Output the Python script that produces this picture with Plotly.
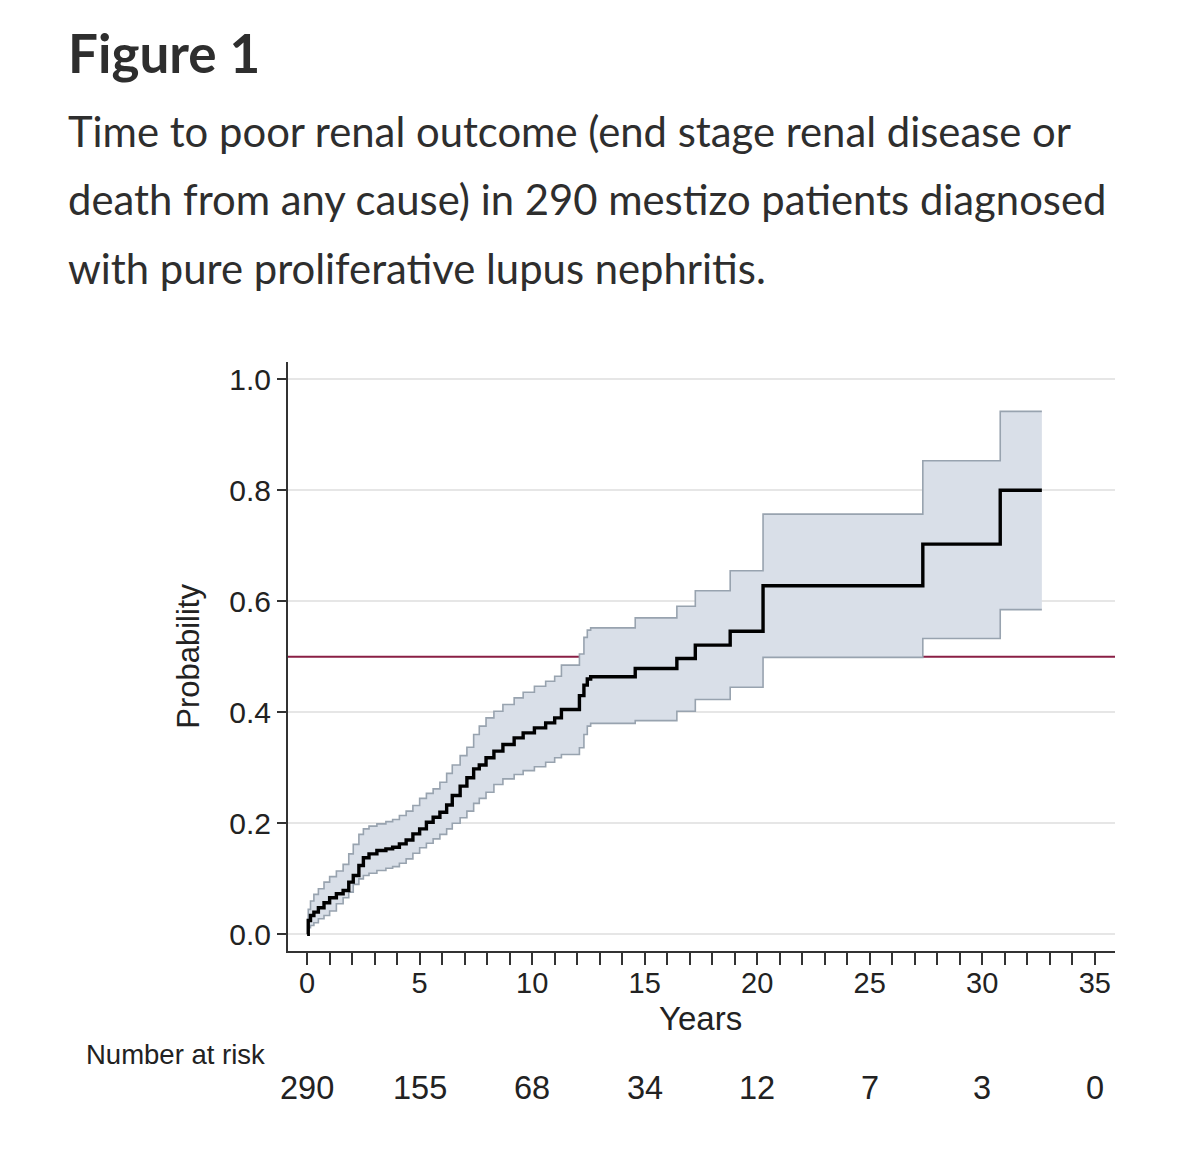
import plotly.graph_objects as go

# ---------------- data ----------------
years = [0, 0.05, 0.15, 0.3, 0.5, 0.75, 1.0, 1.3, 1.6, 1.85, 2.05, 2.3, 2.5, 2.75,
         3.1, 3.5, 3.8, 4.1, 4.4, 4.7, 5.0, 5.3, 5.6, 5.9, 6.2, 6.45, 6.8, 7.1,
         7.4, 7.65, 7.95, 8.3, 8.7, 9.2, 9.6, 10.1, 10.6, 11.0, 11.3, 12.1, 12.3,
         12.45, 12.6, 14.58, 16.43, 17.25, 18.8, 20.26, 27.36, 30.8, 32.65]

estimate = [0, 0.025, 0.034, 0.04, 0.048, 0.057, 0.066, 0.073, 0.079, 0.094, 0.106,
            0.124, 0.138, 0.145, 0.151, 0.154, 0.157, 0.163, 0.170, 0.181, 0.190,
            0.202, 0.211, 0.220, 0.233, 0.250, 0.267, 0.282, 0.298, 0.305, 0.318,
            0.330, 0.342, 0.354, 0.363, 0.372, 0.381, 0.390, 0.405, 0.430, 0.449,
            0.460, 0.464, 0.479, 0.497, 0.521, 0.546, 0.628, 0.703, 0.800, 0.800]

lower_ci = [0, 0.012, 0.016, 0.021, 0.028, 0.034, 0.042, 0.055, 0.066, 0.076, 0.090,
            0.100, 0.106, 0.110, 0.115, 0.119, 0.122, 0.128, 0.136, 0.146, 0.156,
            0.164, 0.172, 0.180, 0.190, 0.200, 0.210, 0.222, 0.236, 0.245, 0.256,
            0.270, 0.280, 0.288, 0.295, 0.302, 0.310, 0.318, 0.324, 0.336, 0.360,
            0.375, 0.380, 0.385, 0.402, 0.423, 0.445, 0.499, 0.533, 0.585, 0.585]

upper_ci = [0, 0.045, 0.060, 0.072, 0.082, 0.094, 0.104, 0.114, 0.126, 0.145, 0.162,
            0.180, 0.190, 0.195, 0.199, 0.203, 0.207, 0.214, 0.222, 0.232, 0.245,
            0.254, 0.262, 0.274, 0.290, 0.305, 0.322, 0.337, 0.360, 0.375, 0.390,
            0.402, 0.414, 0.426, 0.436, 0.447, 0.456, 0.465, 0.485, 0.505, 0.535,
            0.548, 0.552, 0.570, 0.591, 0.619, 0.655, 0.757, 0.853, 0.942, 0.942]

x_ticks = [0, 5, 10, 15, 20, 25, 30, 35]
at_risk = [290, 155, 68, 34, 12, 7, 3, 0]
y_ticks = [0.0, 0.2, 0.4, 0.6, 0.8, 1.0]
reference_level = 0.5

title_text = "Figure 1"
caption_lines = [
    "Time to poor renal outcome (end stage renal disease or",
    "death from any cause) in 290 mestizo patients diagnosed",
    "with pure proliferative lupus nephritis.",
]

# ---------------- styling ----------------
W, H = 1200, 1163
BAND_FILL = "#d9dfe8"
BAND_EDGE = "#98a3af"
REF_COLOR = "#8a1f45"
AXIS_COLOR = "#333333"
GRID_COLOR = "#e6e6e6"
CHART_FONT = "Liberation Sans, Arial, sans-serif"
TITLE_FONT = "Lato, Noto Sans, sans-serif"
TEXT_COLOR = "#2e2e2e"


def py(px):
    """pixel row (from top) -> paper y"""
    return 1 - px / H


fig = go.Figure()

fig.add_trace(go.Scatter(
    x=years, y=lower_ci, mode="lines",
    line=dict(shape="hv", color=BAND_EDGE, width=1.6),
    showlegend=False, hoverinfo="skip"))
fig.add_trace(go.Scatter(
    x=years, y=upper_ci, mode="lines", fill="tonexty", fillcolor=BAND_FILL,
    line=dict(shape="hv", color=BAND_EDGE, width=1.6),
    showlegend=False, hoverinfo="skip"))
fig.add_trace(go.Scatter(
    x=years, y=estimate, mode="lines",
    line=dict(shape="hv", color="#000000", width=3.4),
    showlegend=False))

fig.add_shape(type="line", xref="paper", yref="y",
              x0=288 / W, x1=1115 / W, y0=reference_level, y1=reference_level,
              line=dict(color=REF_COLOR, width=2), layer="below")

annotations = []
# Title and caption
annotations.append(dict(
    text="<b>" + title_text + "</b>", xref="paper", yref="paper",
    x=66 / W, y=py(52), xanchor="left", yanchor="middle", showarrow=False,
    font=dict(family=TITLE_FONT, size=53, color=TEXT_COLOR)))
for i, line in enumerate(caption_lines):
    annotations.append(dict(
        text=line, xref="paper", yref="paper",
        x=66 / W, y=py(131 + 68.5 * i), xanchor="left", yanchor="middle",
        showarrow=False, font=dict(family=TITLE_FONT, size=41.8, color=TEXT_COLOR)))

# Axis titles
annotations.append(dict(
    text="Years", xref="x", yref="paper", x=17.5, y=py(1018),
    xanchor="center", yanchor="middle", showarrow=False,
    font=dict(family=CHART_FONT, size=33, color="#222222")))
annotations.append(dict(
    text="Probability", xref="paper", yref="y", x=189 / W, y=0.5,
    xanchor="center", yanchor="middle", showarrow=False, textangle=-90,
    font=dict(family=CHART_FONT, size=31, color="#222222")))

# Number at risk table
annotations.append(dict(
    text="Number at risk", xref="paper", yref="paper", x=84 / W, y=py(1054),
    xanchor="left", yanchor="middle", showarrow=False,
    font=dict(family=CHART_FONT, size=27.5, color="#222222")))
for xv, n in zip(x_ticks, at_risk):
    annotations.append(dict(
        text=str(n), xref="x", yref="paper", x=xv, y=py(1088),
        xanchor="center", yanchor="middle", showarrow=False,
        font=dict(family=CHART_FONT, size=32.5, color="#222222")))

fig.update_layout(
    width=W, height=H,
    margin=dict(l=0, r=0, t=0, b=0, pad=0),
    paper_bgcolor="white", plot_bgcolor="white",
    showlegend=False,
    annotations=annotations,
    xaxis=dict(
        domain=[288 / W, 1115 / W], range=[-0.85, 35.9],
        tickmode="array", tickvals=x_ticks, ticktext=[str(v) for v in x_ticks],
        ticks="outside", ticklen=12, tickwidth=1.5, tickcolor=AXIS_COLOR,
        minor=dict(dtick=1, tick0=0, ticks="outside", ticklen=12,
                   tickwidth=1.5, tickcolor=AXIS_COLOR, showgrid=False),
        showline=True, linecolor=AXIS_COLOR, linewidth=2,
        showgrid=False, zeroline=False, ticklabelstandoff=-7,
        tickfont=dict(family=CHART_FONT, size=29, color="#222222"),
    ),
    yaxis=dict(
        domain=[py(951), py(362)], range=[-0.030, 1.031],
        tickmode="array", tickvals=y_ticks, ticktext=[f"{v:.1f}" for v in y_ticks],
        ticks="outside", ticklen=9, tickwidth=1.5, tickcolor=AXIS_COLOR,
        showline=True, linecolor=AXIS_COLOR, linewidth=2,
        showgrid=True, gridcolor=GRID_COLOR, gridwidth=1.5, zeroline=False,
        tickfont=dict(family=CHART_FONT, size=30, color="#222222"),
    ),
)

fig.write_html("out.html", config={"displayModeBar": False},
               post_script="document.body.style.margin='0';")
